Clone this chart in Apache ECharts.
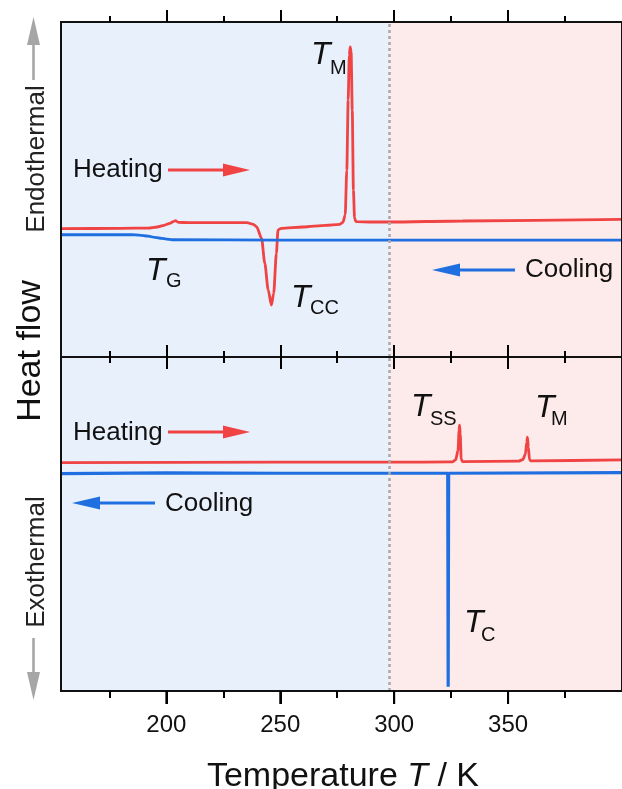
<!DOCTYPE html>
<html><head><meta charset="utf-8">
<script src="https://cdn.jsdelivr.net/npm/echarts@6/dist/echarts.min.js"></script>
<style>html,body{margin:0;padding:0;background:#fff}#c{width:622px;height:789px}</style>
</head><body><div id="c"></div>
<script>
// ---- data (temperature in K, heat flow in arbitrary units) ----
const xMin = 153.75, xMax = 400;
const roomT = 298;
const majorTicks = [200, 250, 300, 350];
const minorTicks = [175, 225, 275, 325, 375];

// Top panel: heating trace (red)
const topHeatT = [153.75,180,192,196,199,201.5,203,204,205.2,210,225,235.3,238.2,239.6,241.8,243.2,244.7,246.1,247.1,248.3,249.0,250.4,260,270,276,277.5,278.5,279.2,279.8,280.3,280.7,281.1,281.6,282.1,282.6,283.2,290,298,330,400];
const topHeatHF = [-0.17,-0.16,-0.15,-0.12,-0.07,-0.01,0.04,0.07,0.02,0.01,0.01,0.01,-0.04,-0.11,-0.46,-1.20,-2.00,-2.45,-2.10,-0.90,-0.21,-0.16,-0.12,-0.07,-0.04,0.02,0.24,1.58,3.67,5.01,5.26,5.10,3.37,0.99,0.15,0.04,0.03,0.03,0.06,0.11];
// Top panel: cooling trace (blue)
const topCoolT = [153.75,185,188,192,195,198,200,202.5,250,300,400];
const topCoolHF = [-0.35,-0.35,-0.36,-0.39,-0.43,-0.46,-0.48,-0.50,-0.51,-0.51,-0.51];
// Bottom panel: heating trace (red)
const botHeatT = [153.75,250,300,325.5,327.0,328.0,328.5,328.7,329.0,329.4,330,354.5,356.5,357.6,358.2,358.5,358.9,359.4,360,400];
const botHeatHF = [-1.66,-1.65,-1.65,-1.64,-1.58,-1.30,-0.70,-0.54,-0.80,-1.55,-1.63,-1.62,-1.57,-1.40,-1.05,-0.90,-1.20,-1.58,-1.61,-1.58];
// Bottom panel: cooling trace (blue)
const botCoolT = [153.75,200,250,300,323.5,323.7,323.9,400];
const botCoolHF = [-1.99,-1.97,-1.98,-1.98,-1.98,-8.37,-1.98,-1.96];

// ---- styles ----
const RED = '#f04444', BLUE = '#1f6fe0', GRAY = '#a6a6a6', INK = '#111';
const FONT = 'Liberation Sans, Arial, sans-serif';
const zip = (a, b) => a.map((v, i) => [v, b[i]]);
const allTicks = majorTicks.concat(minorTicks).sort((a, b) => a - b);

const G = [
  {left: 61, top: 22, width: 570, height: 335},
  {left: 61, top: 357, width: 570, height: 334}
];
const grids = [
  Object.assign({show: true, borderColor: INK, borderWidth: 2, z: 10}, G[0]),
  Object.assign({show: true, borderColor: INK, borderWidth: 2, z: 10}, G[1]),
  Object.assign({show: false}, G[0]),
  Object.assign({show: false}, G[1])
];
function xAx(gi, pos, ticks, len, labelValues) {
  return {
    type: 'value', gridIndex: gi, position: pos, min: xMin, max: xMax, z: 20,
    axisLine: {show: false, onZero: false}, splitLine: {show: false},
    axisTick: {show: true, customValues: ticks, length: len, inside: false, lineStyle: {color: '#000', width: 2}},
    axisLabel: {show: !!labelValues, customValues: labelValues || ticks, fontSize: 24, color: INK, fontFamily: FONT, margin: 22}
  };
}
const xAxes = [
  xAx(0, 'top', majorTicks, 12),
  xAx(0, 'bottom', majorTicks, 12),
  xAx(1, 'top', majorTicks, 12),
  xAx(1, 'bottom', majorTicks, 13),
  xAx(2, 'top', minorTicks, 6),
  xAx(2, 'bottom', minorTicks, 6),
  xAx(3, 'top', minorTicks, 6),
  xAx(3, 'bottom', allTicks, 7, majorTicks)
];
const yAxes = [
  {type: 'value', gridIndex: 0, min: -4, max: 6, show: false},
  {type: 'value', gridIndex: 1, min: -8.5, max: 1.5, show: false},
  {type: 'value', gridIndex: 2, min: 0, max: 1, show: false},
  {type: 'value', gridIndex: 3, min: 0, max: 1, show: false}
];
const bgArea = {
  silent: true,
  data: [
    [{xAxis: xMin, itemStyle: {color: '#e8f0fc'}}, {xAxis: roomT}],
    [{xAxis: roomT, itemStyle: {color: '#fdeaea'}}, {xAxis: xMax}]
  ]
};
const rtLine = {
  silent: true, symbol: 'none', label: {show: false},
  lineStyle: {type: [3, 3], color: '#a8a8a8', width: 2.5},
  data: [{xAxis: roomT}]
};
function line(xi, yi, data, color, extra) {
  return Object.assign({
    type: 'line', xAxisIndex: xi, yAxisIndex: yi, data: data, showSymbol: false, symbol: 'none',
    lineStyle: {color: color, width: 2.8}, itemStyle: {color: color}, animation: false, z: 3
  }, extra || {});
}
const series = [
  line(0, 0, zip(topHeatT, topHeatHF), RED, {markArea: bgArea, smooth: 0.25, smoothMonotone: 'x'}),
  line(0, 0, zip(topCoolT, topCoolHF), BLUE, {markLine: rtLine, smooth: 0.3, smoothMonotone: 'x'}),
  line(2, 1, zip(botHeatT, botHeatHF), RED, {markArea: bgArea, smooth: 0.25, smoothMonotone: 'x'}),
  line(2, 1, zip(botCoolT, botCoolHF), BLUE, {markLine: rtLine, lineStyle: {color: BLUE, width: 3.2}})
];

// ---- annotations ----
function txt(s, x, y, size, opts) {
  return {type: 'text', x: x, y: y, z: 50, style: Object.assign({
    text: s, fontSize: size, fontFamily: FONT, fill: INK, textAlign: 'left', textVerticalAlign: 'middle'
  }, opts || {})};
}
function tLabel(sub, x, y, subX, subY) {
  return [txt('T', x, y, 32, {fontStyle: 'italic'}), txt(sub, subX, subY, 20)];
}
function arrow(x1, x2, y, color, headLen) {
  const dir = x2 > x1 ? 1 : -1;
  const base = x2 - dir * headLen;
  return [
    {type: 'line', z: 50, shape: {x1: x1, y1: y, x2: base, y2: y}, style: {stroke: color, lineWidth: 3.2}},
    {type: 'polygon', z: 50, shape: {points: [[x2, y], [base, y - 6.5], [base, y + 6.5]]}, style: {fill: color}}
  ];
}
function vArrow(x, y1, y2, color, headLen) {
  const dir = y2 > y1 ? 1 : -1;
  const base = y2 - dir * headLen;
  return [
    {type: 'line', z: 50, shape: {x1: x, y1: y1, x2: x, y2: base}, style: {stroke: color, lineWidth: 2.6}},
    {type: 'polygon', z: 50, shape: {points: [[x, y2], [x - 6.5, base], [x + 6.5, base]]}, style: {fill: color}}
  ];
}
const graphics = [].concat(
  txt('Heating', 73, 170, 26),
  arrow(168, 250, 170, RED, 27),
  txt('Cooling', 525, 270, 26),
  arrow(515, 432, 270, BLUE, 28),
  tLabel('M', 311, 55, 330, 68),
  tLabel('G', 146, 271, 166, 281),
  tLabel('CC', 291, 298, 310, 308),
  txt('Heating', 73, 433, 26),
  arrow(168, 250, 432, RED, 27),
  txt('Cooling', 165, 504, 26),
  arrow(155, 72, 503, BLUE, 28),
  tLabel('SS', 411, 407, 430, 419),
  tLabel('M', 535, 408, 551, 419),
  tLabel('C', 464, 623, 481, 635),
  {type: 'text', x: 37, y: 159, rotation: Math.PI / 2, z: 50,
   style: {text: 'Endothermal', fontSize: 26, fontFamily: FONT, fill: '#222', textAlign: 'center', textVerticalAlign: 'middle'}},
  {type: 'text', x: 31, y: 351, rotation: Math.PI / 2, z: 50,
   style: {text: 'Heat flow', fontSize: 34, fontFamily: FONT, fill: INK, textAlign: 'center', textVerticalAlign: 'middle'}},
  {type: 'text', x: 37, y: 562, rotation: Math.PI / 2, z: 50,
   style: {text: 'Exothermal', fontSize: 26, fontFamily: FONT, fill: '#222', textAlign: 'center', textVerticalAlign: 'middle'}},
  vArrow(33.5, 80, 17, GRAY, 28),
  vArrow(33.5, 638, 700, GRAY, 28),
  {type: 'text', x: 343, y: 777, z: 50,
   style: {text: '{n|Temperature }{i|T}{n| / K}', textAlign: 'center', textVerticalAlign: 'middle',
     rich: {n: {fontSize: 34, fontFamily: FONT, fill: INK, color: INK},
            i: {fontSize: 34, fontFamily: FONT, fontStyle: 'italic', fill: INK, color: INK}}}}
);

const chart = echarts.init(document.getElementById('c'), null, {renderer: 'canvas'});
chart.setOption({
  animation: false,
  grid: grids,
  xAxis: xAxes,
  yAxis: yAxes,
  series: series,
  graphic: graphics
});

// Bottom-axis major ticks, positioned through the chart's own x scale (axis 2) and y scale (axis 1)
const yBottom = chart.convertToPixel({yAxisIndex: 1}, -8.5);
const tickMarks = majorTicks.map(function (v) {
  const px = chart.convertToPixel({xAxisIndex: 2}, v);
  return {type: 'line', z: 60, silent: true,
    shape: {x1: px, y1: yBottom, x2: px, y2: yBottom + 13},
    style: {stroke: '#000', lineWidth: 2}};
});
chart.setOption({graphic: graphics.concat(tickMarks)});
</script></body></html>
